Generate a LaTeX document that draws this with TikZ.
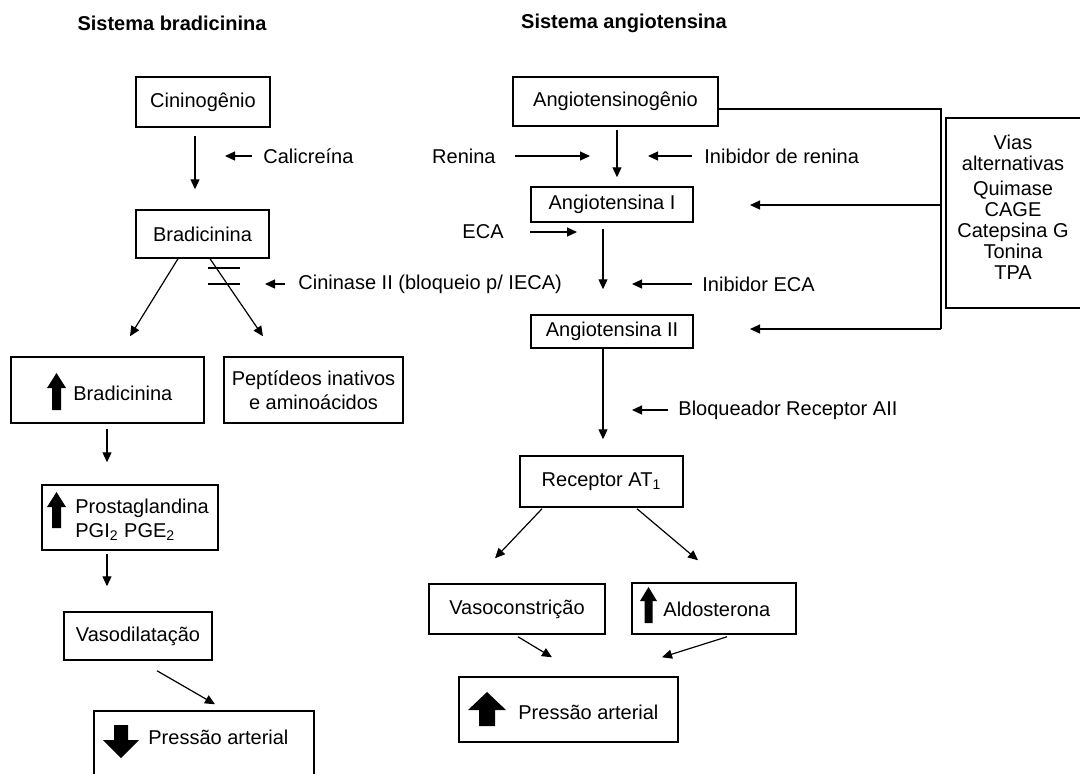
\documentclass[tikz,border=0pt]{standalone}
\usepackage{fontspec}
\setmainfont{Liberation Sans}
\usetikzlibrary{arrows.meta}

\tikzset{
	box/.style={draw, line width=0.75pt, inner sep=2pt},
	txt/.style={inner sep=1pt},
	title/.style={font=\bfseries},
	arr/.style={-{Triangle[length=5pt,width=4.5pt]}, line width=0.6pt},
}

% fat arrow: options, base point, length, shaft width, head width, head length
\newcommand{\fatarrow}[6]{%
	\fill[shift={#2},#1] (-#4/2,0) -- (-#4/2,-#3+#6) -- (-#5/2,-#3+#6) -- (0,-#3)
		-- (#5/2,-#3+#6) -- (#4/2,-#3+#6) -- (#4/2,0) -- cycle;}

\begin{document}
\begin{tikzpicture}[x=0.5pt, y=-0.5pt, font=\fontsize{10}{12}\selectfont]
		\useasboundingbox (0,0) rectangle (1080,773);

		% Titles
		\node[title] (tbra) at (172,23) {Sistema bradicinina};
		\node[title] (tang) at (624,23) {Sistema angiotensina};

		% Bradicinina side
		\node[box, minimum width=67pt, minimum height=25pt] (cinino) at (203,102) {Cininogênio};
		\node[box, minimum width=66.5pt, minimum height=24pt] (bradi) at (202.5,234) {Bradicinina};
		\node[box, minimum width=96.5pt, minimum height=33pt] (bradup) at (107.5,390) {};
		\node[box, minimum width=89.5pt, minimum height=33pt, align=center] (pept) at (313.5,390) {Peptídeos inativos\\e aminoácidos};
		\node[box, minimum width=88pt, minimum height=32.5pt] (prosta) at (130,517.5) {};
		\node[box, minimum width=74pt, minimum height=24pt] (vasod) at (138,636) {Vasodilatação};
		\node[box, minimum width=110pt, minimum height=35pt] (pbaixa) at (204,746) {};

		\node[txt, anchor=west] (bradup-t) at (71,393) {Bradicinina};
		\node[txt, anchor=west, align=left] (prosta-t) at (73,520) {Prostaglandina\\PGI\textsubscript{2} PGE\textsubscript{2}};
		\node[txt, anchor=west] (pbaixa-t) at (146,737) {Pressão arterial};

		\fatarrow{}{(56.5,410)}{37}{9}{19}{15}
		\fatarrow{}{(56.5,528)}{36}{9}{19}{15}
		\fatarrow{yscale=-1}{(121,725)}{33}{14}{36}{18}

		\node[txt, anchor=west] (calic) at (261,156) {Calicreína};
		\coordinate (calic-t) at (225,156);
		\node[txt, anchor=west] (cinase) at (296,284) {Cininase II (bloqueio p/ IECA)};
		\coordinate (cinase-t) at (265,284);

		\draw[arr] ([shift={(-8,8)}]cinino.south) -- ([shift={(-7.5,-20)}]bradi.north);
		\draw[arr] ([shift={(-9,0)}]calic.west) -- (calic-t);
		\draw[arr] ([shift={(-24.5,0)}]bradi.south) -- ([shift={(22.5,-20)}]bradup.north);
		\draw[arr] ([shift={(7.5,0)}]bradi.south) -- ([shift={(-50.5,-20)}]pept.north);
		\draw[line width=0.6pt] (208,268) -- (240,268) (208,284) -- (240,284);
		\draw[arr] ([shift={(-11,0)}]cinase.west) -- (cinase-t);
		\draw[arr] ([shift={(-0.5,5)}]bradup.south) -- ([shift={(-23,-22)}]prosta.north);
		\draw[arr] ([shift={(-23,3)}]prosta.south) -- ([shift={(-31,-25)}]vasod.north);
		\draw[arr] ([shift={(19,10)}]vasod.south) -- ([shift={(11,-6)}]pbaixa.north);

		% Angiotensina side
		\node[box, minimum width=102.5pt, minimum height=24.5pt] (angio) at (615.5,101.5) {Angiotensinogênio};
		\node[box, minimum width=81pt, minimum height=17.5pt] (angI) at (612,204.5) {Angiotensina I};
		\node[box, minimum width=81pt, minimum height=16.5pt] (angII) at (612,331.5) {Angiotensina II};
		\node[box, minimum width=81.5pt, minimum height=25.5pt] (recep) at (601.5,481.5) {Receptor AT\textsubscript{1}};
		\node[box, minimum width=88pt, minimum height=25pt] (vasoc) at (517,609) {Vasoconstrição};
		\node[box, minimum width=82pt, minimum height=25.5pt] (aldo) at (714,608.5) {};
		\node[box, minimum width=109.5pt, minimum height=32.5pt] (palta) at (568.5,709.5) {};
		\node[box, minimum width=70pt, minimum height=95pt] (vias) at (1016,213) {};

		\node[txt, anchor=west] (aldo-t) at (661,609) {Aldosterona};
		\node[txt, anchor=west] (palta-t) at (516,712) {Pressão arterial};
		\node[txt, align=center, font=\fontsize{10}{10.4}\selectfont] (vias-t) at (1013,207)
			{Vias\\alternativas\\[2.5pt]Quimase\\CAGE\\Catepsina G\\Tonina\\TPA};

		\fatarrow{}{(648.5,623)}{36}{8}{17}{14}
		\fatarrow{}{(487,726)}{34}{16}{38}{18}

		\node[txt, anchor=east] (renina) at (498,156) {Renina};
		\coordinate (renina-t) at (590,156);
		\node[txt, anchor=west] (inren) at (702,156) {Inibidor de renina};
		\coordinate (inren-t) at (648,156);
		\node[txt, anchor=east] (eca) at (506,232) {ECA};
		\coordinate (eca-t) at (577,232);
		\node[txt, anchor=west] (ineca) at (700,284) {Inibidor ECA};
		\coordinate (ineca-t) at (632,284);
		\node[txt, anchor=west] (bloq) at (676,410) {Bloqueador Receptor AII};
		\coordinate (bloq-t) at (632,410);

		\draw[arr] ([shift={(1.5,3)}]angio.south) -- ([shift={(5,-9)}]angI.north);
		\draw[arr] ([shift={(17,0)}]renina.east) -- (renina-t);
		\draw[arr] ([shift={(-10,0)}]inren.west) -- (inren-t);
		\draw[arr] ([shift={(-9,6)}]angI.south) -- ([shift={(-9,-25)}]angII.north);
		\draw[arr] ([shift={(24,0)}]eca.east) -- (eca-t);
		\draw[arr] ([shift={(-8,0)}]ineca.west) -- (ineca-t);
		\draw[arr] ([shift={(-9,0)}]angII.south) -- ([shift={(1.5,-16)}]recep.north);
		\draw[arr] ([shift={(-8,0)}]bloq.west) -- (bloq-t);
		\draw[arr] ([shift={(-59.5,1)}]recep.south) -- ([shift={(-22,-25)}]vasoc.north);
		\draw[arr] ([shift={(35.5,1)}]recep.south) -- ([shift={(-16,-22)}]aldo.north);
		\draw[arr] ([shift={(1,2)}]vasoc.south) -- ([shift={(-16.5,-19)}]palta.north);
		\draw[arr] ([shift={(13,2)}]aldo.south) -- ([shift={(93.5,-19)}]palta.north);

		% Alternative pathways
		\coordinate (via1) at (941,205);
		\coordinate (via2) at (941,329);
		\coordinate (angI-t) at (750,205);
		\coordinate (angII-t) at (750,329);
		\draw[line width=0.6pt] ([shift={(0,7.5)}]angio.east) -| (via2);
		\draw[arr] (via1) -- (angI-t);
		\draw[arr] (via2) -- (angII-t);

	\end{tikzpicture}
\end{document}
